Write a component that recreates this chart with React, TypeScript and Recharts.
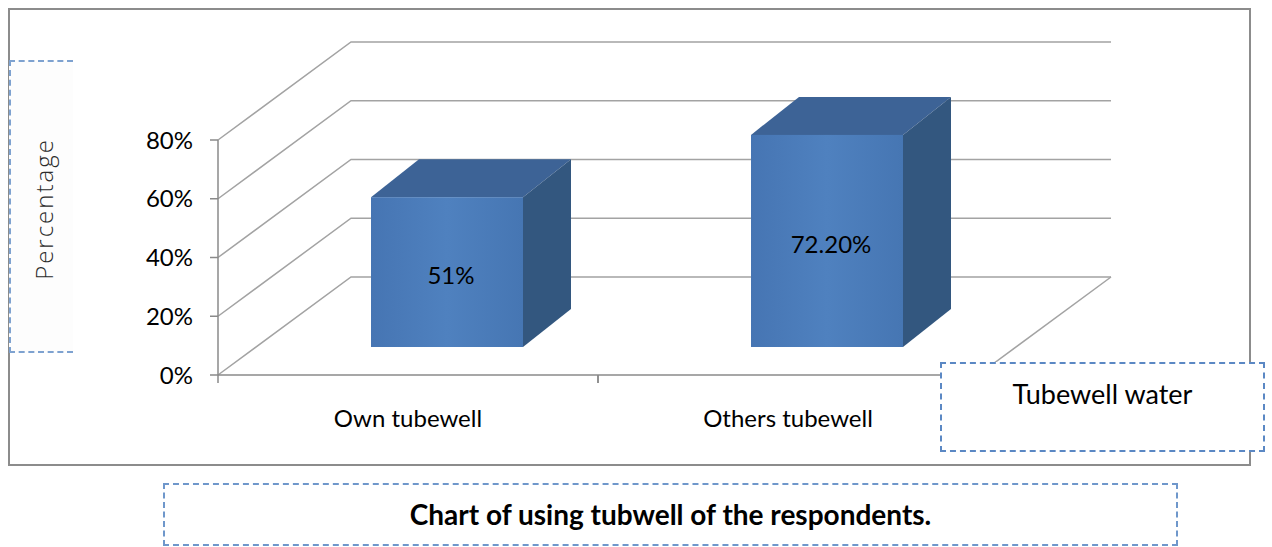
import { BarChart, Bar, XAxis, YAxis, CartesianGrid, Legend, LabelList } from 'recharts';

const categories = ['Own tubewell', 'Others tubewell'];
const shares = [0.51, 0.722];
const shareLabels = ['51%', '72.20%'];
const yTicks = [0, 0.2, 0.4, 0.6, 0.8];

const data = categories.map((name, i) => ({ name, share: shares[i], label: shareLabels[i] }));

const FONT = 'Lato, "Open Sans", sans-serif';
const GRID = '#a3a3a3';
const AXIS = '#8a8a8a';

// back wall sits up and to the right of the front axes
const WALL_DX = 133;
const WALL_DY = -98;
// blocks stand partway into the floor, with their own depth
const BAR_SHIFT_X = 39;
const BAR_SHIFT_Y = -28;
const TOP_DX = 48;
const TOP_DY = -38;

const Block = (props: any) => {
  const { x, y, width, height } = props;
  const fx = x + BAR_SHIFT_X;
  const fy = y + BAR_SHIFT_Y;
  const r = fx + width;
  const b = fy + height;
  return (
    <g>
      <polygon
        points={`${fx},${fy} ${fx + TOP_DX},${fy + TOP_DY} ${r + TOP_DX},${fy + TOP_DY} ${r},${fy}`}
        fill="#3d6396"
      />
      <polygon
        points={`${r},${fy} ${r + TOP_DX},${fy + TOP_DY} ${r + TOP_DX},${b + TOP_DY} ${r},${b}`}
        fill="#33577f"
      />
      <rect x={fx} y={fy} width={width} height={height} fill="url(#blockFace)" />
    </g>
  );
};

const renderShareLabel = (props: any) => {
  const { x, y, width, height, value } = props;
  return (
    <text
      x={x + width / 2 + BAR_SHIFT_X + 4}
      y={y + height / 2 + BAR_SHIFT_Y + 6}
      textAnchor="middle"
      dominantBaseline="middle"
      fontFamily={FONT}
      fontSize={24}
      fill="#000"
    >
      {value}
    </text>
  );
};

// each horizontal grid line runs back along the side wall, then across the back wall
const wallLine = (props: any) => {
  const { x1, x2, y1, index } = props;
  const by = y1 + WALL_DY;
  const isFloor =
    props.height !== undefined ? Math.abs(y1 - (props.y + props.height)) < 0.5 : index === 0;
  return (
    <g key={`wall-${index}`}>
      <polyline
        points={`${x1},${y1} ${x1 + WALL_DX},${by} ${x2 + WALL_DX},${by}`}
        fill="none"
        stroke={GRID}
        strokeWidth={1.5}
      />
      {isFloor && (
        <line x1={x2} y1={y1} x2={x2 + WALL_DX} y2={by} stroke={GRID} strokeWidth={1.5} />
      )}
    </g>
  );
};

const CategoryTick = (props: any) => {
  const { x, y, payload, visibleTicksCount } = props;
  const band = (props.width ?? 760) / (visibleTicksCount ?? categories.length);
  const half = band / 2;
  return (
    <g>
      <line x1={x - half} y1={y} x2={x - half} y2={y + 8} stroke={AXIS} strokeWidth={1.5} />
      <line x1={x + half} y1={y} x2={x + half} y2={y + 8} stroke={AXIS} strokeWidth={1.5} />
      <text x={x} y={y + 52} textAnchor="middle" fontFamily={FONT} fontSize={24} fill="#000">
        {payload.value}
      </text>
    </g>
  );
};

const renderLegend = (props: any) => {
  const item = props.payload?.[0];
  return (
    <div
      style={{
        width: 325,
        height: 90,
        boxSizing: 'border-box',
        border: '2px dashed #5b88c4',
        background: '#fff',
        fontFamily: FONT,
        fontSize: 27,
        color: '#000',
        textAlign: 'center',
        paddingTop: 13,
      }}
    >
      {item?.value}
    </div>
  );
};

export default function App() {
  return (
    <div style={{ position: 'absolute', left: 0, top: 0, width: 1272, height: 547, background: '#fff' }}>
      {/* chart frame */}
      <div
        style={{
          position: 'absolute',
          left: 8,
          top: 8,
          width: 1243,
          height: 458,
          boxSizing: 'border-box',
          border: '2px solid #8c8c8c',
        }}
      />
      {/* axis title box */}
      <div
        style={{
          position: 'absolute',
          left: 9,
          top: 60,
          width: 64,
          height: 293,
          boxSizing: 'border-box',
          borderLeft: '2px dashed #7ea2d0',
          borderTop: '2px dashed #7ea2d0',
          borderBottom: '2px dashed #7ea2d0',
          background: '#fdfdfd',
        }}
      >
        <div
          style={{
            position: 'absolute',
            left: 32,
            top: 147,
            transform: 'translate(-50%, -50%) rotate(-90deg)',
            fontFamily: '"Open Sans", sans-serif',
            fontWeight: 300,
            fontSize: 24,
            letterSpacing: 2,
            color: '#2b2b2b',
            whiteSpace: 'nowrap',
          }}
        >
          Percentage
        </div>
      </div>
      <div style={{ position: 'absolute', left: 0, top: 0 }}>
        <BarChart
          width={1272}
          height={547}
          data={data}
          barCategoryGap="30%"
          margin={{ top: 140, right: 294, bottom: 132, left: 158 }}
        >
          <defs>
            <linearGradient id="blockFace" x1="0" y1="0" x2="1" y2="0">
              <stop offset="0%" stopColor="#4675b3" />
              <stop offset="50%" stopColor="#4f81bf" />
              <stop offset="100%" stopColor="#4676b3" />
            </linearGradient>
          </defs>
          <CartesianGrid horizontal={wallLine} vertical={false} syncWithTicks />
          <XAxis
            dataKey="name"
            height={40}
            tickLine={false}
            tickSize={0}
            tickMargin={0}
            axisLine={{ stroke: AXIS, strokeWidth: 1.5 }}
            tick={<CategoryTick />}
            interval={0}
          />
          <YAxis
            width={60}
            domain={[0, 0.8]}
            ticks={yTicks}
            tickFormatter={(v: number) => `${Math.round(v * 100)}%`}
            tickSize={8}
            tickMargin={17}
            tickLine={{ stroke: AXIS, strokeWidth: 1.5 }}
            axisLine={{ stroke: AXIS, strokeWidth: 1.5 }}
            tick={{ fill: '#000', fontFamily: FONT, fontSize: 24 }}
          />
          <Legend
            layout="horizontal"
            verticalAlign="middle"
            align="center"
            content={renderLegend}
            wrapperStyle={{ left: 940, top: 362, width: 325, height: 90 }}
          />
          <Bar dataKey="share" name="Tubewell water" shape={<Block />} isAnimationActive={false}>
            <LabelList dataKey="label" content={renderShareLabel} />
          </Bar>
        </BarChart>
      </div>
      {/* caption */}
      <div
        style={{
          position: 'absolute',
          left: 163,
          top: 483,
          width: 1015,
          height: 63,
          boxSizing: 'border-box',
          border: '2px dashed #6f97cb',
          fontFamily: FONT,
          fontWeight: 700,
          fontSize: 28,
          color: '#000',
          textAlign: 'center',
          lineHeight: '59px',
        }}
      >
        Chart of using tubwell of the respondents.
      </div>
    </div>
  );
}
